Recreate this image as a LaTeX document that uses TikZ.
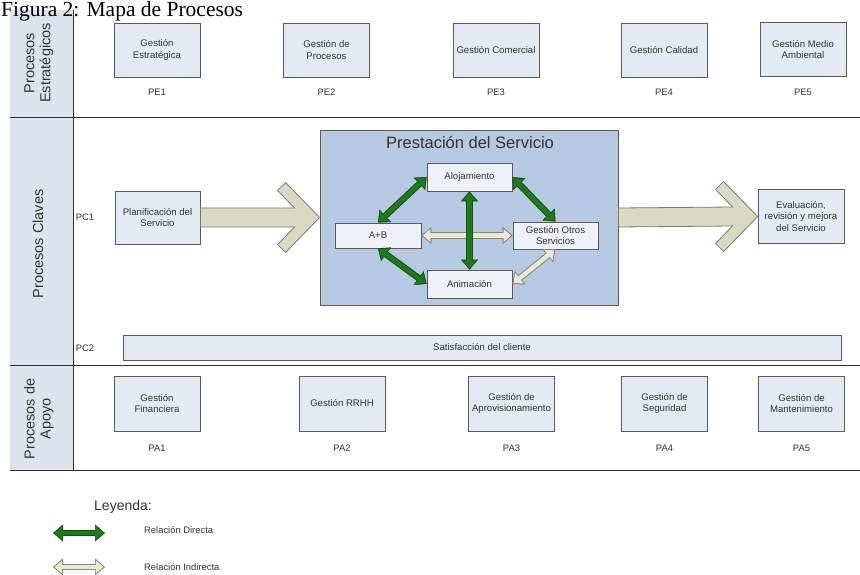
\documentclass[tikz,border=0pt]{standalone}
\usepackage{fontspec}
\setmainfont{Liberation Sans}
\newfontfamily\titlefont{Liberation Serif}
\usetikzlibrary{arrows.meta,calc}
\definecolor{boxfill}{HTML}{E4E9F4}
\definecolor{boxdraw}{HTML}{5A5A5A}
\definecolor{bandfill}{HTML}{DDE3EE}
\definecolor{prestfill}{HTML}{B7C8E2}
\definecolor{innerfill}{HTML}{EEF1F8}
\definecolor{bigfill}{HTML}{D8DAC3}
\definecolor{bigline}{HTML}{7A7A6E}
\definecolor{grn}{HTML}{1F7A1F}
\definecolor{grndark}{HTML}{145214}
\definecolor{indfill}{HTML}{E8EAD8}
\definecolor{indline}{HTML}{85857A}
\definecolor{txt}{HTML}{333333}
\definecolor{frame}{HTML}{2E2E2E}
\tikzset{
  procbox/.style={draw=boxdraw, line width=0.8pt, fill=boxfill, minimum width=86pt,
    minimum height=54pt, inner sep=2pt, align=center, text=txt,
    font=\fontsize{9.6}{11.5}\selectfont},
  inbox/.style={draw=boxdraw, line width=0.7pt, fill=innerfill, minimum width=85pt,
    minimum height=27pt, inner sep=1pt, align=center, text=txt,
    font=\fontsize{9.6}{11.5}\selectfont},
  lbl/.style={inner sep=1pt, text=txt, font=\fontsize{9.4}{11}\selectfont},
  bandlbl/.style={rotate=90, align=center, text=txt, inner sep=0pt,
    font=\fontsize{14.5}{16}\selectfont},
  dblout/.style={line width=6.5pt,
    arrows={Triangle[length=10pt,width=17pt,line width=0.5pt]-Triangle[length=10pt,width=17pt,line width=0.5pt]}},
  dblin/.style={line width=4.5pt, shorten <=1.6pt, shorten >=1.6pt,
    arrows={Triangle[length=7.5pt,width=13pt,line width=0.5pt]-Triangle[length=7.5pt,width=13pt,line width=0.5pt]}},
  bigarrowstyle/.style={draw=bigline, fill=bigfill, line width=0.8pt, line join=miter},
  frameline/.style={draw=frame, line width=1pt}
}
\newcommand\relarrow[4]{%
  \draw[dblout,#1] (#3) -- (#4);
  \draw[dblin,#2] (#3) -- (#4);}
\newcommand\blockarrow[2]{%
  \draw[bigarrowstyle] ($(#1)+(0,-9.5)$) -- ($(#2)+(-25,-9.5)$) -- ($(#2)+(-42,-27)$)
    -- ($(#2)+(-34,-35)$) -- (#2) -- ($(#2)+(-34,35)$) -- ($(#2)+(-42,27)$)
    -- ($(#2)+(-25,9.5)$) -- ($(#1)+(0,9.5)$) -- cycle;}
\begin{document}
\begin{tikzpicture}[x=1pt,y=-1pt]
\useasboundingbox (0,0) rectangle (860,575);
\fill[white] (0,0) rectangle (860,575);

% left band and frame lines
\fill[bandfill] (10,10) rectangle (73,470);
\draw[frameline] (73,10) -- (73,470);
\draw[frameline] (10,118) -- (860,118);
\draw[frameline] (10,365) -- (860,365);
\draw[frameline] (10,470) -- (860,470);

% title
\node[anchor=base west, inner sep=0pt, font=\titlefont\fontsize{21.5}{24}\selectfont] (title) at (1,17) {Figura 2: Mapa de Procesos};

\node[bandlbl] (lblpe) at (39,63) {Procesos\\Estratégicos};
\node[bandlbl] (lblpc) at (38,244) {Procesos Claves};
\node[bandlbl] (lblpa) at (39,419) {Procesos de\\Apoyo};

% strategic processes
\node[procbox] (pe1) at (157,50) {Gestión\\Estratégica};
\node[procbox] (pe2) at (326.5,50) {Gestión de\\Procesos};
\node[procbox] (pe3) at (496,50) {Gestión Comercial};
\node[procbox] (pe4) at (664,50) {Gestión Calidad};
\node[procbox] (pe5) at (803,49.5) {Gestión Medio\\Ambiental};
\node[lbl] (pe1l) at (157,92) {PE1};
\node[lbl] (pe2l) at (326.5,92) {PE2};
\node[lbl] (pe3l) at (496,92) {PE3};
\node[lbl] (pe4l) at (664,92) {PE4};
\node[lbl] (pe5l) at (803,92) {PE5};

% key processes
\node[lbl] (pc1) at (85,217) {PC1};
\node[lbl] (pc2) at (85,348) {PC2};
\node[procbox, minimum width=85pt, minimum height=53pt] (plan) at (157.5,217.5) {Planificación del\\Servicio};
\node[draw=boxdraw, line width=0.8pt, fill=prestfill, minimum width=298pt, minimum height=175pt] (prest) at (469,217.5) {};
\node[text=txt, inner sep=0pt, font=\fontsize{16.5}{18}\selectfont] (presttitle) at (470,143) {Prestación del Servicio};
\node[procbox, minimum height=54pt] (eval) at (801,216.5) {Evaluación,\\revisión y mejora\\del Servicio};

\blockarrow{plan.east}{prest.west}
\blockarrow{prest.east}{eval.west}

\node[inbox, minimum height=28pt] (aloj) at (469.5,177) {Alojamiento};
\node[inbox, minimum width=86pt, minimum height=25pt] (ab) at (378,235.5) {A+B};
\node[inbox] (otros) at (555.5,235.5) {Gestión Otros\\Servicios};
\node[inbox, minimum height=28pt] (anim) at (469.5,284) {Animación};

% indirect relations
\relarrow{indline}{indfill}{ab.east}{otros.west}
\relarrow{indline}{indfill}{anim.east}{otros.south}
% direct relations
\relarrow{grndark}{grn}{ab.north}{aloj.west}
\relarrow{grndark}{grn}{aloj.east}{otros.north}
\relarrow{grndark}{grn}{ab.south}{anim.west}
\relarrow{grndark}{grn}{aloj.south}{anim.north}

\node[procbox, minimum width=718pt, minimum height=25pt] (satis) at (482,347.5) {Satisfacción del cliente};

% support processes
\node[procbox, minimum height=55pt] (pa1) at (157,403.5) {Gestión\\Financiera};
\node[procbox, minimum height=55pt] (pa2) at (342,403.5) {Gestión RRHH};
\node[procbox, minimum height=55pt] (pa3) at (511.5,403.5) {Gestión de\\Aprovisionamiento};
\node[procbox, minimum height=55pt] (pa4) at (664.5,403.5) {Gestión de\\Seguridad};
\node[procbox, minimum height=55pt] (pa5) at (801.5,403.5) {Gestión de\\Mantenimiento};
\node[lbl] (pa1l) at (157,448) {PA1};
\node[lbl] (pa2l) at (342,448) {PA2};
\node[lbl] (pa3l) at (511.5,448) {PA3};
\node[lbl] (pa4l) at (664.5,448) {PA4};
\node[lbl] (pa5l) at (801.5,448) {PA5};

% legend
\node[text=txt, inner sep=0pt, font=\fontsize{14}{16}\selectfont] (ley) at (123,507) {Leyenda:};
\coordinate (lg1a) at (53,533);
\coordinate (lg1b) at (105,533);
\coordinate (lg2a) at (53,567);
\coordinate (lg2b) at (105,567);
\relarrow{grndark}{grn}{lg1a}{lg1b}
\relarrow{indline}{indfill}{lg2a}{lg2b}
\node[lbl, anchor=west] (ldir) at (143,530) {Relación Directa};
\node[lbl, anchor=west] (lind) at (143,567) {Relación Indirecta};
\end{tikzpicture}
\end{document}
